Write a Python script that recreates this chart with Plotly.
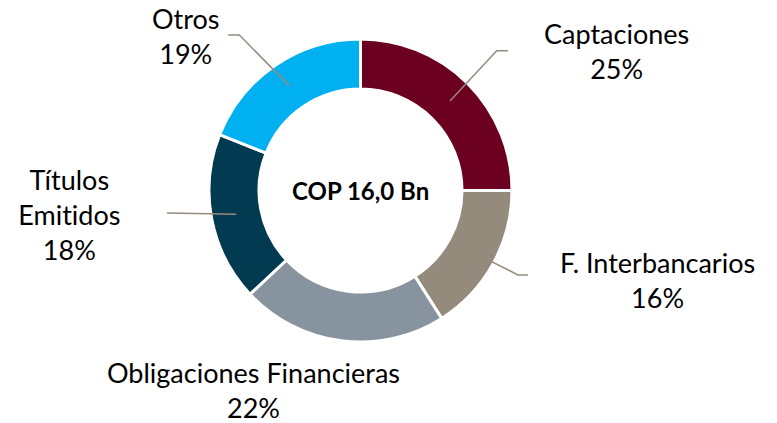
import math
import plotly.graph_objects as go

# ---- data ----
categories = ["Captaciones", "F. Interbancarios", "Obligaciones Financieras", "Títulos Emitidos", "Otros"]
label_lines = ["Captaciones", "F. Interbancarios", "Obligaciones Financieras", "Títulos<br>Emitidos", "Otros"]
values = [25, 16, 22, 18, 19]
center_text = "COP 16,0 Bn"

# ---- styling / layout ----
colors = ["#6C0020", "#958B7D", "#87939E", "#023A52", "#00B0F0"]
W, H = 777, 423
cx, cy, R = 360.5, 190.5, 151.5
hole = 0.67
FONT = "Lato"
line_color = "#958B7D"

# label block centres (px) and leader-line elbow / end points (px); None = no leader
label_pos = [(616, 51), (657, 280), (253, 390), (69, 215), (186, 36.5)]
leader_pts = [
    [(496.7, 50.7), (508, 50.7)],
    [(518, 275), (528, 275)],
    None,
    [(167, 213)],
    [(239.3, 35), (228.3, 35)],
]

def px(x):
    return x / W

def py(y):
    return 1 - y / H

fig = go.Figure(
    go.Pie(
        labels=categories,
        values=values,
        sort=False,
        direction="clockwise",
        rotation=0,
        hole=hole,
        textinfo="none",
        marker=dict(colors=colors, line=dict(color="white", width=3)),
        domain=dict(x=[px(cx - R), px(cx + R)], y=[py(cy + R), py(cy - R)]),
        showlegend=False,
        hoverinfo="label+percent",
    )
)

total = sum(values)
annotations = []
shapes = []
cum = 0.0
r_mid = R * (1 + hole) / 2
for i, v in enumerate(values):
    mid = (cum + v / 2) / total * 2 * math.pi
    cum += v
    pct = round(v / total * 100)
    lx, ly = label_pos[i]
    annotations.append(
        dict(
            x=px(lx), y=py(ly), xref="paper", yref="paper",
            text=f"{label_lines[i]}<br>{pct}%",
            showarrow=False, xanchor="center", yanchor="middle",
            font=dict(family=FONT, size=27, color="#000000"),
        )
    )
    if leader_pts[i]:
        sx = cx + r_mid * math.sin(mid)
        sy = cy - r_mid * math.cos(mid)
        pts = [(sx, sy)] + leader_pts[i]
        path = "M " + " L ".join(f"{px(a):.5f},{py(b):.5f}" for a, b in pts)
        shapes.append(
            dict(type="path", path=path, xref="paper", yref="paper",
                 line=dict(color=line_color, width=1.5), layer="above")
        )

annotations.append(
    dict(
        x=px(cx), y=py(cy), xref="paper", yref="paper",
        text=f"<b>{center_text}</b>", showarrow=False,
        xanchor="center", yanchor="middle",
        font=dict(family=FONT, size=24, color="#000000"),
    )
)

fig.update_layout(
    width=W, height=H,
    margin=dict(l=0, r=0, t=0, b=0),
    paper_bgcolor="white", plot_bgcolor="white",
    annotations=annotations, shapes=shapes,
)

fig.write_html(
    "out.html",
    config={"displayModeBar": False},
    post_script=(
        "document.body.style.margin='0px';"
        "document.body.style.overflow='hidden';"
        "var s=document.createElement('style');"
        "s.textContent='text{font-variant-ligatures:none !important;font-feature-settings:\"liga\" 0,\"clig\" 0 !important;}';"
        "document.head.appendChild(s);"
    ),
)
